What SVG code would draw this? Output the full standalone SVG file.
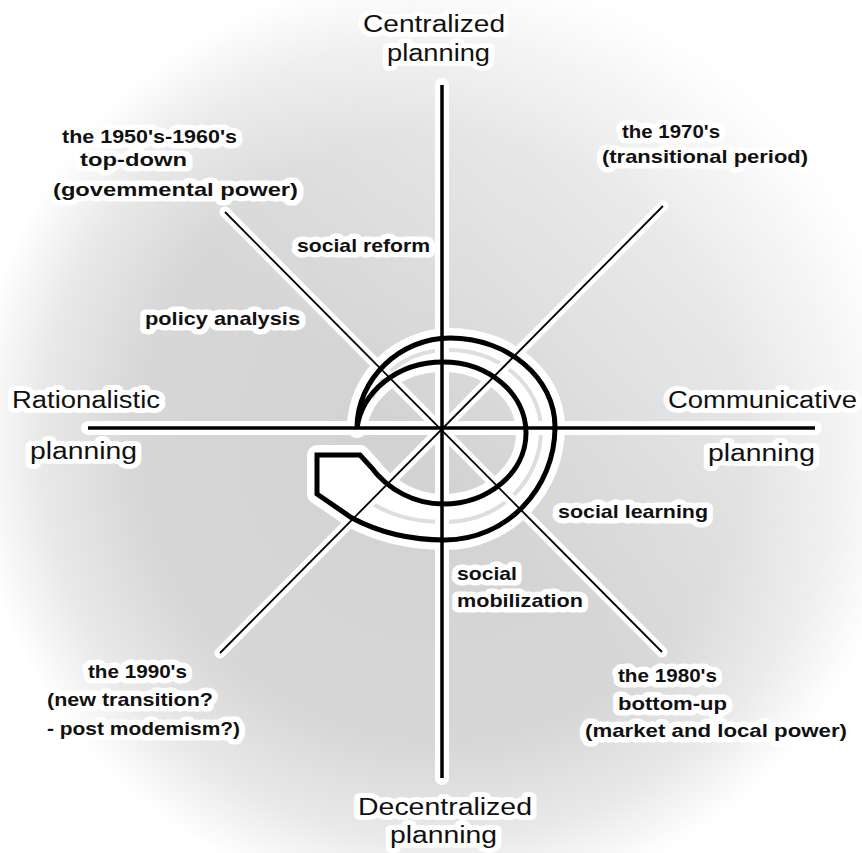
<svg xmlns="http://www.w3.org/2000/svg" width="862" height="853" viewBox="0 0 862 853">
<defs>
<radialGradient id="bg" gradientUnits="userSpaceOnUse" cx="440" cy="440" r="470">
<stop offset="0" stop-color="#d2d2d2"/>
<stop offset="0.65" stop-color="#d7d7d7"/>
<stop offset="0.85" stop-color="#e9e9e9"/>
<stop offset="1" stop-color="#ffffff"/>
</radialGradient>
<linearGradient id="lit" gradientUnits="userSpaceOnUse" x1="800" y1="80" x2="420" y2="460">
<stop offset="0" stop-color="#ffffff" stop-opacity="0.75"/>
<stop offset="1" stop-color="#ffffff" stop-opacity="0"/>
</linearGradient>
<style>
.halo{stroke:#fff;fill:none;stroke-linecap:round}
.ax{stroke:#000;stroke-width:3.5;fill:none}
.dg{stroke:#000;stroke-width:1.8;fill:none}
.big{font-family:"Liberation Sans",Arial,sans-serif;font-size:23px;fill:#111;paint-order:stroke;stroke:#fff;stroke-width:10px;stroke-linejoin:round}
.sm{font-family:"Liberation Sans",Arial,sans-serif;font-size:19px;font-weight:bold;fill:#111;paint-order:stroke;stroke:#fff;stroke-width:11px;stroke-linejoin:round}
</style>
</defs>
<rect width="862" height="853" fill="url(#bg)"/>
<rect width="862" height="853" fill="url(#lit)"/>

<g id="spiral-halo">
<path d="M357,428 C357,379 400,338 450,338 C508,338 555,378 555,427 C555,489 506,540 445,540 C412,540 380,533 352,518 L317,494 L317,455 L360,455 L371,467 C388,490 415,504 443,504 C489,504 526,472 526,433 C526,394 489,362 443,362 C397,362 362,392 357,428 Z" fill="#fff" stroke="#fff" stroke-width="20" stroke-linejoin="round"/>
<path d="M372,398 C386,366 415,350 448,350 C500,350 541,386 541,430 C541,481 500,522 444,522 C412,522 388,514 370,502" fill="none" stroke="#dedede" stroke-width="4"/>
</g>

<g id="connectors">
<line class="halo" x1="442" y1="85" x2="442" y2="778" stroke-width="14"/>
<line class="halo" x1="88" y1="428" x2="815" y2="428" stroke-width="14"/>
<line class="halo" x1="225" y1="212" x2="662" y2="652" stroke-width="11"/>
<line class="halo" x1="663" y1="206" x2="220" y2="653" stroke-width="11"/>
<line class="ax" x1="442" y1="85" x2="442" y2="778"/>
<line class="ax" x1="88" y1="428" x2="815" y2="428"/>
<line class="dg" x1="225" y1="212" x2="662" y2="652"/>
<line class="dg" x1="663" y1="206" x2="220" y2="653"/>
</g>

<g id="spiral">
<path d="M357,428 C357,379 400,338 450,338 C508,338 555,378 555,427 C555,489 506,540 445,540 C412,540 380,533 352,518 L317,494 L317,455 L360,455 L371,467 C388,490 415,504 443,504 C489,504 526,472 526,433 C526,394 489,362 443,362 C397,362 362,392 357,428 Z" fill="none" stroke="#000" stroke-width="5" stroke-linejoin="miter"/>
</g>

<g id="centralized"><text class="big" x="363" y="32" textLength="142" lengthAdjust="spacingAndGlyphs">Centralized</text><text class="big" x="387" y="61" textLength="103" lengthAdjust="spacingAndGlyphs">planning</text></g>
<g id="decentralized"><text class="big" x="358" y="815" textLength="174" lengthAdjust="spacingAndGlyphs">Decentralized</text><text class="big" x="390" y="843" textLength="107" lengthAdjust="spacingAndGlyphs">planning</text></g>
<g id="rationalistic"><text class="big" x="12" y="408" textLength="148" lengthAdjust="spacingAndGlyphs">Rationalistic</text><text class="big" x="30" y="459" textLength="107" lengthAdjust="spacingAndGlyphs">planning</text></g>
<g id="communicative"><text class="big" x="668" y="408" textLength="189" lengthAdjust="spacingAndGlyphs">Communicative</text><text class="big" x="708" y="461" textLength="107" lengthAdjust="spacingAndGlyphs">planning</text></g>

<g id="era1950"><text class="sm" x="62" y="143" textLength="175" lengthAdjust="spacingAndGlyphs">the 1950's-1960's</text><text class="sm" x="80" y="166" textLength="107" lengthAdjust="spacingAndGlyphs">top-down</text><text class="sm" x="53" y="196" textLength="245" lengthAdjust="spacingAndGlyphs">(govemmental power)</text></g>
<g id="era1970"><text class="sm" x="622" y="138" textLength="98" lengthAdjust="spacingAndGlyphs">the 1970's</text><text class="sm" x="602" y="163" textLength="206" lengthAdjust="spacingAndGlyphs">(transitional period)</text></g>
<g id="era1990"><text class="sm" x="88" y="678" textLength="99" lengthAdjust="spacingAndGlyphs">the 1990's</text><text class="sm" x="47" y="706" textLength="166" lengthAdjust="spacingAndGlyphs">(new transition?</text><text class="sm" x="47" y="735" textLength="193" lengthAdjust="spacingAndGlyphs">- post modemism?)</text></g>
<g id="era1980"><text class="sm" x="618" y="682" textLength="99" lengthAdjust="spacingAndGlyphs">the 1980's</text><text class="sm" x="618" y="710" textLength="109" lengthAdjust="spacingAndGlyphs">bottom-up</text><text class="sm" x="585" y="737" textLength="262" lengthAdjust="spacingAndGlyphs">(market and local power)</text></g>
<g id="social-reform"><text class="sm" x="297" y="252" textLength="133" lengthAdjust="spacingAndGlyphs">social reform</text></g>
<g id="policy-analysis"><text class="sm" x="145" y="325" textLength="155" lengthAdjust="spacingAndGlyphs">policy analysis</text></g>
<g id="social-learning"><text class="sm" x="558" y="518" textLength="150" lengthAdjust="spacingAndGlyphs">social learning</text></g>
<g id="social-mobilization"><text class="sm" x="457" y="580" textLength="60" lengthAdjust="spacingAndGlyphs">social</text><text class="sm" x="457" y="607" textLength="126" lengthAdjust="spacingAndGlyphs">mobilization</text></g>
</svg>
